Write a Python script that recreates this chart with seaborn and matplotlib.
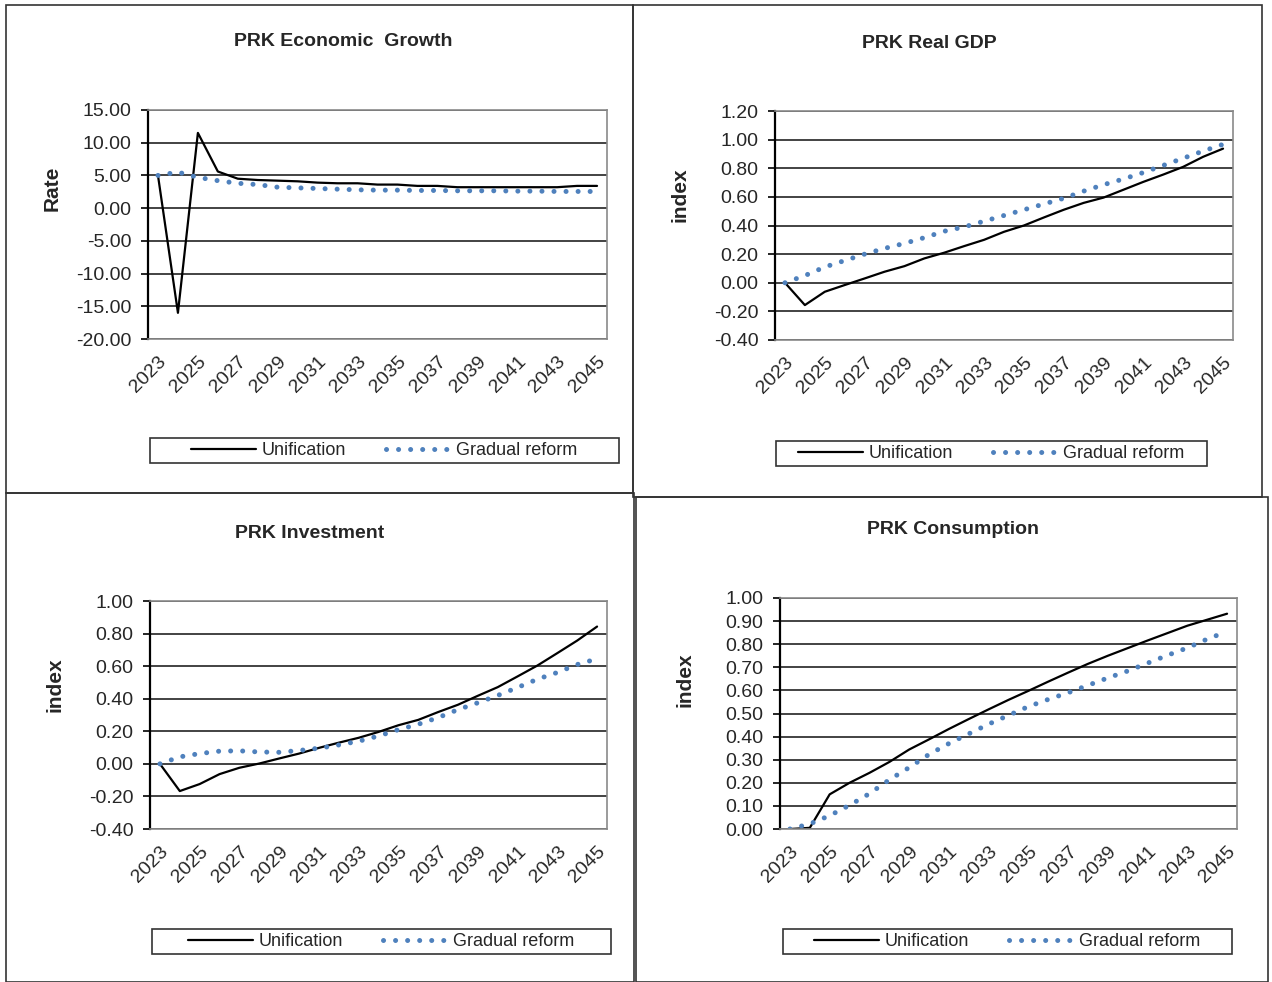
import numpy as np
import pandas as pd
import matplotlib
matplotlib.use("Agg")
import matplotlib.pyplot as plt
from matplotlib.patches import Rectangle
from matplotlib.lines import Line2D
import seaborn as sns

# data
years = list(range(2023, 2046))

growth_unif = [5.0, -16.0, 11.5, 5.6, 4.5, 4.3, 4.2, 4.1, 3.9, 3.8, 3.8, 3.6,
               3.6, 3.4, 3.4, 3.2, 3.2, 3.2, 3.2, 3.2, 3.2, 3.4, 3.4]
growth_grad = [5.0, 5.5, 4.7, 4.2, 3.8, 3.6, 3.2, 3.1, 3.0, 2.9, 2.8, 2.75,
               2.75, 2.7, 2.7, 2.65, 2.65, 2.65, 2.6, 2.6, 2.55, 2.55, 2.55]

gdp_unif = [0.0, -0.156, -0.063, -0.016, 0.03, 0.077, 0.116, 0.17, 0.21, 0.256,
            0.30, 0.356, 0.40, 0.456, 0.51, 0.558, 0.595, 0.65, 0.705, 0.756,
            0.81, 0.88, 0.937]
gdp_grad = [0.0, 0.05, 0.11, 0.155, 0.20, 0.24, 0.275, 0.315, 0.36, 0.39, 0.43,
            0.47, 0.51, 0.55, 0.59, 0.64, 0.685, 0.725, 0.77, 0.82, 0.87, 0.92,
            0.967]

inv_unif = [0.0, -0.167, -0.124, -0.063, -0.024, 0.002, 0.033, 0.063, 0.098,
            0.13, 0.16, 0.196, 0.237, 0.27, 0.318, 0.363, 0.418, 0.471, 0.537,
            0.604, 0.68, 0.757, 0.843]
inv_grad = [0.0, 0.043, 0.063, 0.078, 0.08, 0.073, 0.071, 0.082, 0.096, 0.116,
            0.139, 0.171, 0.21, 0.243, 0.284, 0.333, 0.375, 0.42, 0.469, 0.52,
            0.561, 0.61, 0.645]

cons_unif = [0.0, 0.005, 0.15, 0.2, 0.243, 0.29, 0.344, 0.388, 0.433, 0.476,
             0.518, 0.559, 0.598, 0.638, 0.677, 0.715, 0.75, 0.783, 0.816,
             0.848, 0.88, 0.906, 0.932]
cons_grad = [0.0, 0.022, 0.058, 0.103, 0.153, 0.213, 0.266, 0.323, 0.37, 0.412,
             0.454, 0.492, 0.53, 0.561, 0.59, 0.622, 0.654, 0.684, 0.718, 0.752,
             0.784, 0.822, 0.855]

titles = ["PRK Economic  Growth", "PRK Real GDP", "PRK Investment", "PRK Consumption"]
ylabels = ["Rate", "index", "index", "index"]
series = [(growth_unif, growth_grad), (gdp_unif, gdp_grad),
          (inv_unif, inv_grad), (cons_unif, cons_grad)]
yticks = [np.arange(-20, 15.1, 5), np.arange(-0.4, 1.21, 0.2),
          np.arange(-0.4, 1.01, 0.2), np.arange(0, 1.01, 0.1)]

sns.set_theme(style="white")
plt.rcParams["font.family"] = ["Liberation Sans", "DejaVu Sans"]

W, H = 1272, 982
fig = plt.figure(figsize=(W / 100, H / 100), dpi=100)
fig.patch.set_facecolor("white")


def frac(x0, y0, x1, y1):
    # pixel box (top-left origin) -> figure fraction rect
    return [x0 / W, 1 - y1 / H, (x1 - x0) / W, (y1 - y0) / H]


# layout in pixels
panels = [(6, 5, 633, 493), (633, 5, 1262, 497), (6, 493, 634, 982), (636, 497, 1268, 982)]
plot_boxes = [(148, 110, 607, 339), (775, 111, 1233, 340), (150, 601, 607, 829), (780, 598, 1237, 829)]
title_pos = [(343, 42), (929, 43), (310, 533), (953, 529)]
ylab_pos = [(52, 188), (680, 195), (55, 685), (685, 680)]
legend_boxes = [(150, 438, 619, 463), (776, 441, 1207, 466), (152, 929, 611, 954), (783, 929, 1232, 954)]

blue = "#4F81BD"
txt = "#262626"
dot_style = (0, (0.01, 2.4))

for p in panels:
    fig.add_artist(Rectangle((p[0] / W, 1 - p[3] / H), (p[2] - p[0]) / W, (p[3] - p[1]) / H,
                             transform=fig.transFigure, fill=False, edgecolor="#333333", lw=1.2))

for i in range(4):
    ax = fig.add_axes(frac(*plot_boxes[i]))
    unif, grad = series[i]
    df = pd.DataFrame({"year": years, "Unification": unif, "Gradual reform": grad})

    sns.lineplot(data=df, x="year", y="Unification", ax=ax, color="black", lw=1.6)
    sns.lineplot(data=df, x="year", y="Gradual reform", ax=ax, color=blue, lw=3.6,
                 linestyle=dot_style, dash_capstyle="round")

    ax.set_xlim(2022.5, 2045.5)
    ax.set_ylim(yticks[i][0], yticks[i][-1])
    ax.set_yticks(yticks[i])
    ax.set_yticklabels([f"{v:.2f}" for v in yticks[i]], fontsize=14, color=txt)
    ax.set_xticks(years[::2])
    ax.set_xticklabels([str(y) for y in years[::2]], rotation=45, ha="right",
                       rotation_mode="anchor", fontsize=14, color=txt)
    ax.tick_params(axis="x", length=0, pad=10)
    ax.tick_params(axis="y", length=5, width=1.2, color="black", left=True, pad=7)
    ax.yaxis.grid(True, color="#222222", lw=1.2)
    ax.set_axisbelow(True)
    ax.set_xlabel("")
    ax.set_ylabel("")
    for side in ["top", "right", "bottom"]:
        ax.spines[side].set_color("#8a8a8a")
        ax.spines[side].set_linewidth(1.2)
    ax.spines["left"].set_color("black")
    ax.spines["left"].set_linewidth(1.6)

    fig.text(title_pos[i][0] / W, 1 - title_pos[i][1] / H, titles[i],
             ha="center", va="center", fontsize=14, fontweight="bold", color=txt)
    fig.text(ylab_pos[i][0] / W, 1 - ylab_pos[i][1] / H, ylabels[i],
             ha="center", va="center", rotation=90, fontsize=15, fontweight="bold", color=txt)

    lb = legend_boxes[i]
    fig.add_artist(Rectangle((lb[0] / W, 1 - lb[3] / H), (lb[2] - lb[0]) / W, (lb[3] - lb[1]) / H,
                             transform=fig.transFigure, fill=False, edgecolor="#333333", lw=1.2))
    handles = [Line2D([], [], color="black", lw=1.6),
               Line2D([], [], color=blue, lw=3.6, linestyle=dot_style, dash_capstyle="round")]
    leg = fig.legend(handles, ["Unification", "Gradual reform"], loc="center",
                     bbox_to_anchor=((lb[0] + lb[2]) / 2 / W, 1 - (lb[1] + lb[3]) / 2 / H),
                     ncol=2, frameon=False, fontsize=13, handlelength=3.6,
                     handletextpad=0.3, columnspacing=2.2, borderpad=0.1)
    for t in leg.get_texts():
        t.set_color(txt)

fig.savefig("out.png", dpi=100)
